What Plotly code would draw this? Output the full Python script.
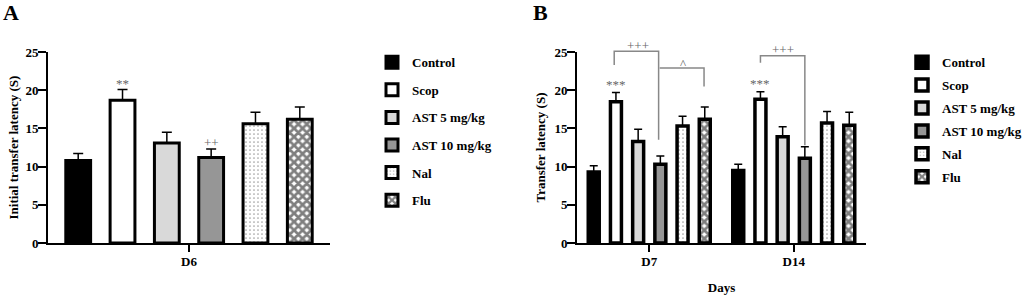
import plotly.graph_objects as go

# ---- data ----
groups = ["Control", "Scop", "AST 5 mg/kg", "AST 10 mg/kg", "Nal", "Flu"]
days_a = ["D6"]
days_b = ["D7", "D14"]
a_mean = [10.8, 18.7, 13.1, 11.2, 15.6, 16.2]
a_sem = [0.9, 1.4, 1.4, 1.1, 1.5, 1.6]
b_d7_mean = [9.3, 18.5, 13.3, 10.3, 15.3, 16.2]
b_d7_sem = [0.8, 1.2, 1.6, 1.1, 1.3, 1.6]
b_d14_mean = [9.5, 18.8, 13.9, 11.1, 15.7, 15.4]
b_d14_sem = [0.8, 1.0, 1.3, 1.5, 1.5, 1.7]
yticks = [0, 5, 10, 15, 20, 25]

# ---- styles / layout helpers ----
FONT = "Liberation Serif"
W, H = 1024, 295
fills = ["black", "white", "#d9d9d9", "#969696", "white", "white"]
patterns = [
    dict(shape=""), dict(shape=""), dict(shape=""), dict(shape=""),
    dict(shape=".", fgcolor="#444444", bgcolor="white", size=4, solidity=0.15),
    dict(shape="x", fgcolor="black", bgcolor="white", size=6, solidity=0.7),
]

NG = len(groups)
BARGAP_A = 0.057
BARGAP_B = 0.078
W_B = 0.076
PLOT_TOP, PLOT_BOT = 52, 243  # px


def wx(px):
    return px / W


def wy(py):
    return (PLOT_BOT - py) / (PLOT_BOT - PLOT_TOP)


DOM_A = [wx(48), wx(330)]
DOM_B = [wx(577), wx(866)]
YMAX = 25


def slot_center(cat_idx, grp_idx, gap):
    slot = (1 - gap) / NG
    return cat_idx - (1 - gap) / 2 + (grp_idx + 0.5) * slot


def b_offset(grp_idx):
    slot = (1 - BARGAP_B) / NG
    return -(1 - BARGAP_B) / 2 + grp_idx * slot + (slot - W_B) / 2


def bx_paper(pos):
    # category axis B range is [-0.5, 1.5]
    return DOM_B[0] + (pos + 0.5) / 2 * (DOM_B[1] - DOM_B[0])


def y_paper(v):
    return v / YMAX


fig = go.Figure()

for i, g in enumerate(groups):
    fig.add_trace(go.Bar(
        x=days_a, y=[a_mean[i]], name=g, legend="legend", legendgroup="a" + str(i),
        marker=dict(color=fills[i], pattern=patterns[i], line=dict(color="black", width=3)),
        error_y=dict(type="data", symmetric=False, array=[a_sem[i]], arrayminus=[0],
                     color="black", thickness=1.5, width=5),
        xaxis="x", yaxis="y",
    ))

for i, g in enumerate(groups):
    fig.add_trace(go.Bar(
        x=days_b, y=[b_d7_mean[i], b_d14_mean[i]], name=g, legend="legend2",
        legendgroup="b" + str(i), width=W_B, offset=b_offset(i),
        marker=dict(color=fills[i], pattern=patterns[i], line=dict(color="black", width=3.5)),
        error_y=dict(type="data", symmetric=False, array=[b_d7_sem[i], b_d14_sem[i]],
                     arrayminus=[0, 0], color="black", thickness=1.5, width=4),
        xaxis="x2", yaxis="y2",
    ))

tickfont = dict(family=FONT, size=13, color="black", weight="bold")
axis_common = dict(showline=True, linecolor="black", linewidth=2, ticks="outside",
                   tickcolor="black", tickwidth=2, showgrid=False, zeroline=False,
                   tickfont=tickfont)
xcommon = dict(ticklen=7, ticklabelstandoff=-2, **axis_common)
ycommon = dict(range=[0, YMAX], tickvals=yticks, ticklen=8, ticklabelstandoff=-3, **axis_common)
legend_font = dict(family=FONT, size=13, color="black", weight="bold")

fig.update_layout(
    width=W, height=H,
    margin=dict(l=0, r=0, t=PLOT_TOP, b=H - PLOT_BOT, autoexpand=False),
    paper_bgcolor="white", plot_bgcolor="white",
    barmode="group", bargap=BARGAP_A, bargroupgap=0.44,
    font=dict(family=FONT, color="black"),
    xaxis=dict(domain=DOM_A, anchor="y", **xcommon),
    yaxis=dict(domain=[0, 1], anchor="x", **ycommon),
    xaxis2=dict(domain=DOM_B, anchor="y2",
                title=dict(text="<b>Days</b>", font=dict(family=FONT, size=13, color="black"), standoff=15),
                **xcommon),
    yaxis2=dict(domain=[0, 1], anchor="x2", **ycommon),
    legend=dict(x=wx(372), xanchor="left", y=1.025, yanchor="top", traceorder="grouped",
                tracegroupgap=7.7, maxheight=280, font=legend_font, bgcolor="rgba(0,0,0,0)"),
    legend2=dict(x=wx(902), xanchor="left", y=1.025, yanchor="top", traceorder="grouped",
                 tracegroupgap=3, maxheight=280, font=legend_font, bgcolor="rgba(0,0,0,0)"),
    showlegend=True,
)

ann_font = dict(family=FONT, size=13, color="#666666")
label_font = dict(family=FONT, size=13, color="black")


def pann(text, x, y, font, **kw):
    return dict(text=text, xref="paper", yref="paper", x=x, y=y, xanchor="center",
                yanchor="middle", showarrow=False, font=font, **kw)


anns = [
    pann("<b>A</b>", wx(11), wy(12), dict(family=FONT, size=22, color="black")),
    pann("<b>B</b>", wx(540), wy(12), dict(family=FONT, size=22, color="black")),
    pann("<b>Initial transfer latency (S)</b>", wx(13), 0.5, label_font, textangle=-90),
    pann("<b>Transfer latency (S)</b>", wx(540), 0.5, label_font, textangle=-90),
    dict(text="**", xref="x", yref="y", x=slot_center(0, 1, BARGAP_A), y=20.9, showarrow=False, font=ann_font),
    dict(text="++", xref="x", yref="y", x=slot_center(0, 3, BARGAP_A), y=13.2, showarrow=False, font=ann_font),
    dict(text="***", xref="x2", yref="y2", x=slot_center(0, 1, BARGAP_B), y=20.8, showarrow=False, font=ann_font),
    dict(text="***", xref="x2", yref="y2", x=slot_center(1, 1, BARGAP_B), y=20.9, showarrow=False, font=ann_font),
    pann("+++", bx_paper((slot_center(0, 1, BARGAP_B) + slot_center(0, 3, BARGAP_B)) / 2), y_paper(25.9), ann_font),
    pann("^", bx_paper((slot_center(0, 3, BARGAP_B) + slot_center(0, 5, BARGAP_B)) / 2), y_paper(23.5), ann_font),
    pann("+++", bx_paper((slot_center(1, 1, BARGAP_B) + slot_center(1, 3, BARGAP_B)) / 2), y_paper(25.3), ann_font),
]
fig.update_layout(annotations=anns)

line_style = dict(color="#888888", width=1.5)


def bracket(cat, g1, g2, y1, ytop, y2, shift=0.0):
    xa = bx_paper(slot_center(cat, g1, BARGAP_B) + shift)
    xb = bx_paper(slot_center(cat, g2, BARGAP_B) + shift)
    return dict(type="path", xref="paper", yref="paper",
                path=f"M {xa},{y_paper(y1)} L {xa},{y_paper(ytop)} L {xb},{y_paper(ytop)} L {xb},{y_paper(y2)}",
                line=line_style)


fig.update_layout(shapes=[
    bracket(0, 1, 3, 23.3, 25.1, 13.5, shift=-0.012),
    bracket(0, 3, 5, 22.9, 22.9, 20.5, shift=-0.005),
    bracket(1, 1, 3, 23.6, 24.5, 12.8),
])

fig.write_html("out.html", config={"displayModeBar": False},
               post_script="document.body.style.margin='0';")
